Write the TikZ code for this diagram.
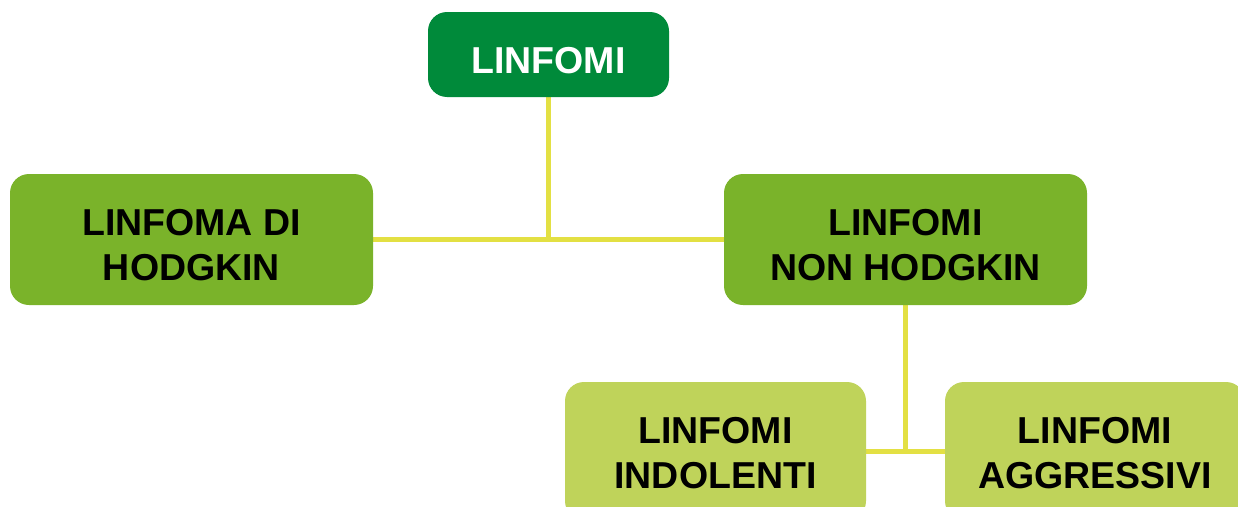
\documentclass[tikz,border=0pt]{standalone}
\usepackage{fontspec}
\setmainfont{Liberation Sans}
\usetikzlibrary{backgrounds}
\definecolor{dgreen}{HTML}{008A3A}
\definecolor{mgreen}{HTML}{7AB32A}
\definecolor{lgreen}{HTML}{BFD35A}
\definecolor{lineyel}{HTML}{E3E043}
\begin{document}
\begin{tikzpicture}[x=1pt,y=-1pt,
  box/.style={rounded corners=19pt, inner sep=0pt},
  lbl/.style={inner sep=0pt, align=center, yshift=-#1,
    font=\fontsize{37.5}{45}\selectfont\bfseries},
  lbl/.default=6pt,
  conn/.style={draw=lineyel, line width=5pt}]
\useasboundingbox (0,0) rectangle (1238,506);
\clip (0,0) rectangle (1238,506);
\node[box, fill=dgreen, minimum width=241pt, minimum height=85pt] (top) at (548.5,54.5) {};
\node[box, fill=mgreen, minimum width=363pt, minimum height=131pt] (hod) at (191.5,239.5) {};
\node[box, fill=mgreen, minimum width=363pt, minimum height=131pt] (nhod) at (905.5,239.5) {};
\node[box, fill=lgreen, minimum width=301pt, minimum height=138pt] (ind) at (715.5,451) {};
\node[box, fill=lgreen, minimum width=300pt, minimum height=138pt] (agg) at (1095,451) {};
\node[lbl, text=white] (topt) at (top.center) {LINFOMI};
\node[lbl] (hodt) at (hod.center) {LINFOMA DI\\HODGKIN};
\node[lbl] (nhodt) at (nhod.center) {LINFOMI\\NON HODGKIN};
\node[lbl=2pt] (indt) at (ind.center) {LINFOMI\\INDOLENTI};
\node[lbl=2pt] (aggt) at (agg.center) {LINFOMI\\AGGRESSIVI};
\coordinate (j1) at (top.south |- hod.east);
\coordinate (j2) at (nhod.south |- ind.east);
\begin{scope}[on background layer]
\draw[conn] (top.south) -- (j1);
\draw[conn] (hod.east) -- (nhod.west);
\draw[conn] (nhod.south) -- (j2);
\draw[conn] (ind.east) -- (agg.west);
\end{scope}
\end{tikzpicture}
\end{document}
